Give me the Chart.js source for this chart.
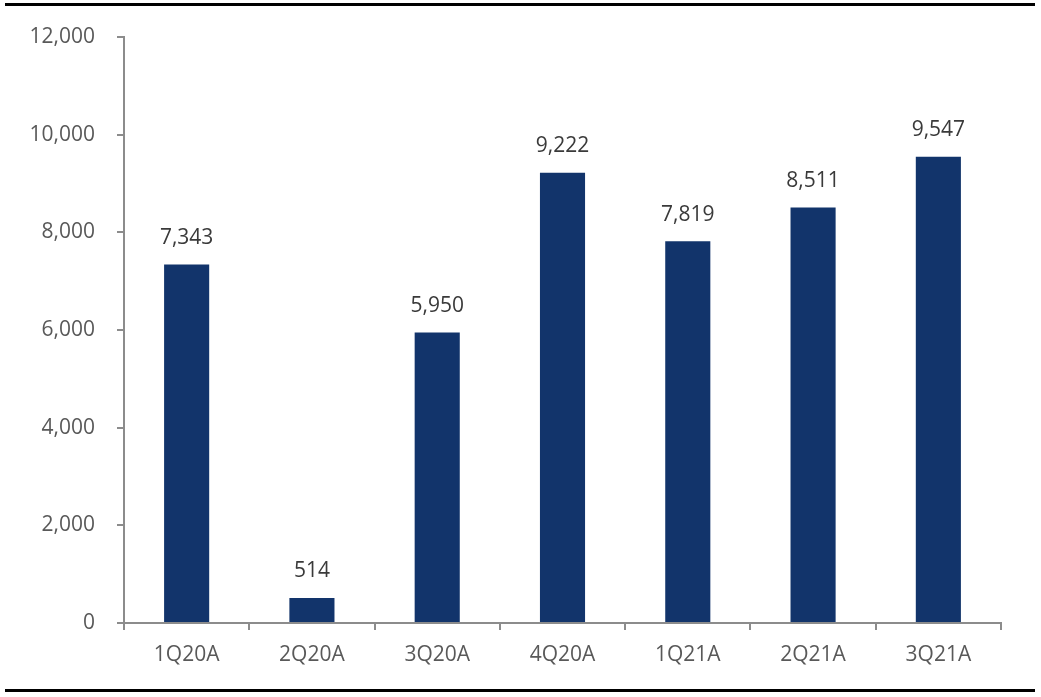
<!DOCTYPE html>
<html>
<head>
<meta charset="utf-8">
<script src="https://cdn.jsdelivr.net/npm/chart.js@4/dist/chart.umd.min.js"></script>
<style>
    html, body { margin: 0; padding: 0; background: #fff; }
    #wrap { width: 1041px; height: 697px; position: relative; }
</style>
</head>
<body>
<div id="wrap"><canvas id="chart" width="1041" height="697"></canvas></div>
<script>
const categories = ['1Q20A', '2Q20A', '3Q20A', '4Q20A', '1Q21A', '2Q21A', '3Q21A']
const values = [7343, 514, 5950, 9222, 7819, 8511, 9547]
const yTicks = [0, 2000, 4000, 6000, 8000, 10000, 12000]

const barColor = '#12346B'
const axisColor = '#8C8C8C'
const fontFamily = '"Open Sans", "Noto Sans", sans-serif'

// value labels above each bar
const valueLabels = {
    id: 'valueLabels',
    afterDatasetsDraw(chart) {
        const ctx = chart.ctx
        const meta = chart.getDatasetMeta(0)
        ctx.save()
        ctx.font = '21px ' + fontFamily
        ctx.fillStyle = '#3A3A3A'
        ctx.textAlign = 'center'
        ctx.textBaseline = 'bottom'
        meta.data.forEach((bar, i) => {
            ctx.fillText(values[i].toLocaleString('en-US'), bar.x, bar.y - 16)
        })
        ctx.restore()
    }
}

// the black rules across top and bottom of the figure
const frameRules = {
    id: 'frameRules',
    afterDraw(chart) {
        const ctx = chart.ctx
        ctx.save()
        ctx.strokeStyle = '#000'
        ctx.lineWidth = 3
        ctx.beginPath()
        ctx.moveTo(5, 4.5)
        ctx.lineTo(1035, 4.5)
        ctx.moveTo(5, 690.5)
        ctx.lineTo(1035, 690.5)
        ctx.stroke()
        ctx.restore()
    }
}

new Chart(document.getElementById('chart'), {
    type: 'bar',
    data: {
        labels: categories,
        datasets: [{
            data: values,
            backgroundColor: barColor,
            categoryPercentage: 1,
            barPercentage: 0.36
        }]
    },
    options: {
        responsive: false,
        animation: false,
        devicePixelRatio: 1,
        layout: {padding: {top: 37, right: 40, left: 0, bottom: 0}},
        plugins: {
            legend: {display: false},
            tooltip: {enabled: false}
        },
        scales: {
            x: {
                offset: true,
                grid: {
                    offset: true,
                    drawOnChartArea: false,
                    drawTicks: true,
                    tickLength: 7,
                    color: axisColor,
                    lineWidth: 2
                },
                border: {display: true, color: axisColor, width: 2},
                ticks: {
                    color: '#595959',
                    font: {family: fontFamily, size: 21},
                    padding: 12,
                    maxRotation: 0
                },
                afterFit(scale) { scale.height = 74 }
            },
            y: {
                min: 0,
                max: 12000,
                afterBuildTicks(scale) { scale.ticks = yTicks.map(v => ({value: v})) },
                grid: {
                    drawOnChartArea: false,
                    drawTicks: true,
                    tickLength: 7,
                    color: axisColor,
                    lineWidth: 2
                },
                border: {display: true, color: axisColor, width: 2},
                ticks: {
                    color: '#595959',
                    font: {family: fontFamily, size: 21},
                    padding: 22,
                    callback: v => v.toLocaleString('en-US')
                },
                afterFit(scale) { scale.width = 124 }
            }
        }
    },
    plugins: [valueLabels, frameRules]
})
</script>
</body>
</html>
